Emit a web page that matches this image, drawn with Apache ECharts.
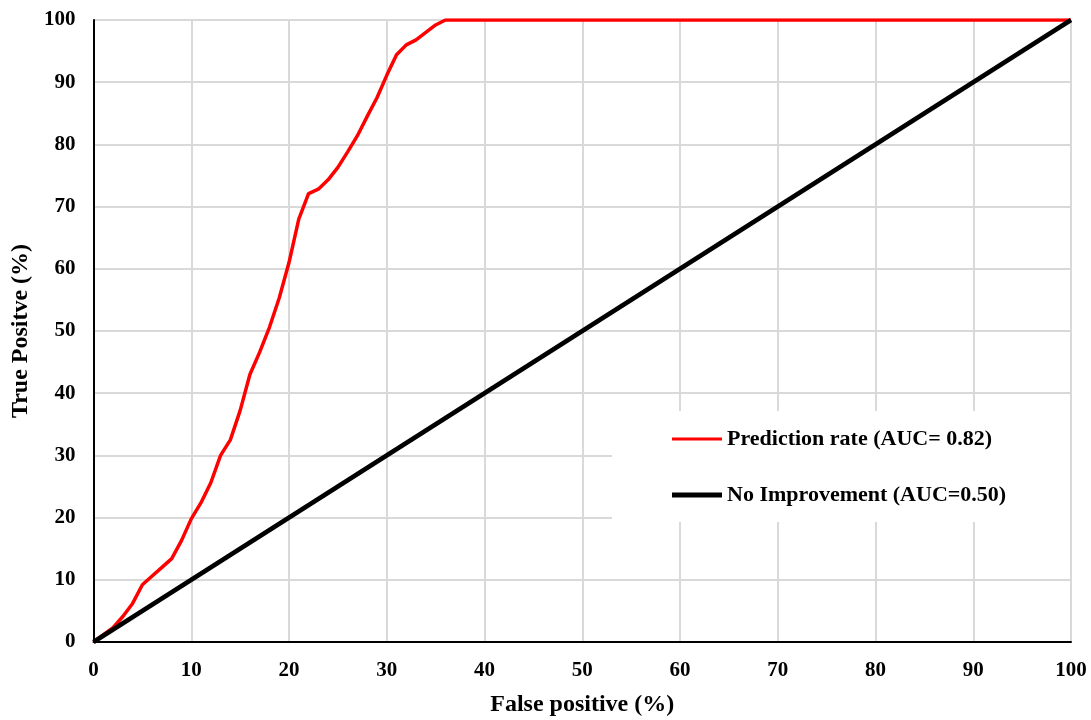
<!DOCTYPE html>
<html>
<head>
<meta charset="utf-8">
<script src="https://cdn.jsdelivr.net/npm/echarts@6/dist/echarts.min.js"></script>
<style>html,body{margin:0;padding:0;background:#fff;}#c{width:1091px;height:720px;}</style>
</head>
<body>
<div id="c"></div>
<script>
const predX = [0, 2, 3, 4, 5, 6, 7, 8, 9, 10, 11, 12, 13, 14, 15, 16, 17, 18, 19, 20, 21, 22, 23, 24, 25, 26, 27, 28, 29, 30, 31, 32, 33, 34, 35, 36, 100];
const predY = [0, 2.3, 4.1, 6.2, 9.2, 10.6, 12, 13.4, 16.3, 19.8, 22.4, 25.6, 30, 32.5, 37.2, 43, 46.6, 50.6, 55.3, 61, 68, 72.1, 72.8, 74.3, 76.3, 78.8, 81.4, 84.5, 87.5, 91.1, 94.4, 96, 96.8, 98, 99.2, 100, 100];
const baseX = [0, 100];
const baseY = [0, 100];
const seriesNames = ['Prediction rate (AUC= 0.82)', 'No Improvement (AUC=0.50)'];
const xTitle = 'False positive (%)';
const yTitle = 'True Positve (%)';

const font = 'Liberation Serif';
const legendText = { fontFamily: font, fontWeight: 'bold', fontSize: 22, color: '#000', lineHeight: 24 };
const chart = echarts.init(document.getElementById('c'));
chart.setOption({
  animation: false,
  backgroundColor: '#fff',
  grid: { left: 93.5, right: 20, top: 20, bottom: 78, outerBoundsMode: 'none', containLabel: false },
  xAxis: {
    type: 'value', min: 0, max: 100, interval: 10,
    name: xTitle, nameLocation: 'middle', nameGap: 51,
    nameTextStyle: { fontFamily: font, fontWeight: 'bold', fontSize: 24, color: '#000' },
    axisLine: { show: true, onZero: false, lineStyle: { color: '#000', width: 2 } },
    axisTick: { show: false },
    axisLabel: { fontFamily: font, fontWeight: 'bold', fontSize: 21, color: '#000', margin: 18 },
    splitLine: { show: true, lineStyle: { color: '#d9d9d9', width: 2 } }
  },
  yAxis: {
    type: 'value', min: 0, max: 100, interval: 10,
    name: yTitle, nameLocation: 'middle', nameGap: 57,
    nameTextStyle: { fontFamily: font, fontWeight: 'bold', fontSize: 24, color: '#000' },
    axisLine: { show: true, onZero: false, lineStyle: { color: '#000', width: 2 } },
    axisTick: { show: false },
    axisLabel: { fontFamily: font, fontWeight: 'bold', fontSize: 21, color: '#000', margin: 18 },
    splitLine: { show: true, lineStyle: { color: '#d9d9d9', width: 2 } }
  },
  graphic: [{
    type: 'rect', z: 1,
    shape: { x: 612, y: 411, width: 458, height: 111 },
    style: { fill: '#fff' }
  }],
  legend: [
    {
      orient: 'vertical', left: 672, top: 427, padding: 0,
      itemWidth: 50, itemHeight: 3, icon: 'rect',
      textStyle: legendText,
      data: [seriesNames[0]]
    },
    {
      orient: 'vertical', left: 672, top: 483, padding: 0,
      itemWidth: 50, itemHeight: 5, icon: 'rect',
      textStyle: legendText,
      data: [seriesNames[1]]
    }
  ],
  series: [
    {
      name: seriesNames[0], type: 'line', symbol: 'none', z: 3,
      data: predX.map((x, i) => [x, predY[i]]),
      lineStyle: { color: '#ff0000', width: 3.5 },
      itemStyle: { color: '#ff0000' }
    },
    {
      name: seriesNames[1], type: 'line', symbol: 'none', z: 4,
      data: baseX.map((x, i) => [x, baseY[i]]),
      lineStyle: { color: '#000', width: 4.5 },
      itemStyle: { color: '#000' }
    }
  ]
});
</script>
</body>
</html>
